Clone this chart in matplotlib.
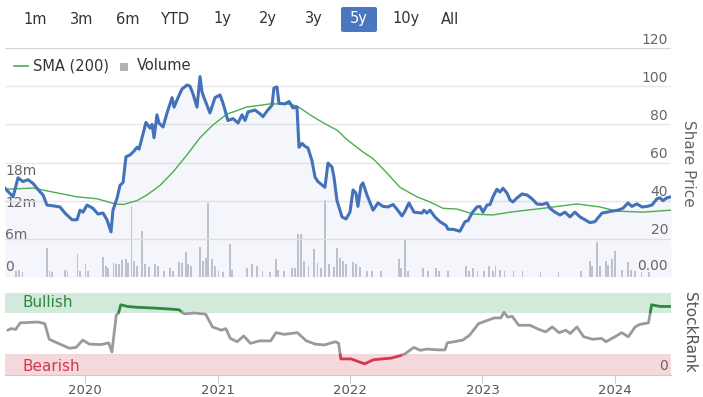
import numpy as np
import matplotlib
matplotlib.use('Agg')
import matplotlib.pyplot as plt
from matplotlib.lines import Line2D
from matplotlib.patches import FancyBboxPatch, Rectangle
from matplotlib.transforms import blended_transform_factory

# ---- data (decimal years) ----
price_dates = [2019.396, 2019.457, 2019.494, 2019.532, 2019.570, 2019.608, 2019.660, 2019.683, 2019.713, 2019.758,
               2019.811, 2019.849, 2019.902, 2019.940, 2019.962, 2019.985, 2020.015, 2020.060, 2020.098, 2020.136,
               2020.166, 2020.196, 2020.211, 2020.242, 2020.264, 2020.287, 2020.309, 2020.340, 2020.370, 2020.392,
               2020.408, 2020.430, 2020.460, 2020.491, 2020.506, 2020.521, 2020.543, 2020.558, 2020.589, 2020.619,
               2020.657, 2020.672, 2020.702, 2020.732, 2020.770, 2020.792, 2020.815, 2020.845, 2020.868, 2020.883,
               2020.898, 2020.943, 2020.981, 2021.019, 2021.042, 2021.079, 2021.117, 2021.155, 2021.185, 2021.208,
               2021.230, 2021.283, 2021.321, 2021.343, 2021.374, 2021.411, 2021.426, 2021.449, 2021.464, 2021.509,
               2021.540, 2021.570, 2021.600, 2021.615, 2021.638, 2021.660, 2021.683, 2021.713, 2021.736, 2021.758,
               2021.811, 2021.834, 2021.864, 2021.879, 2021.902, 2021.940, 2021.970, 2022.000, 2022.023, 2022.045,
               2022.060, 2022.083, 2022.098, 2022.128, 2022.151, 2022.174, 2022.211, 2022.249, 2022.287, 2022.325,
               2022.355, 2022.392, 2022.415, 2022.445, 2022.483, 2022.543, 2022.558, 2022.581, 2022.604, 2022.642,
               2022.679, 2022.725, 2022.740, 2022.777, 2022.830, 2022.868, 2022.891, 2022.921, 2022.958, 2022.981,
               2023.004, 2023.034, 2023.057, 2023.079, 2023.109, 2023.132, 2023.155, 2023.185, 2023.208, 2023.230,
               2023.260, 2023.298, 2023.336, 2023.374, 2023.411, 2023.449, 2023.487, 2023.509, 2023.547, 2023.585,
               2023.623, 2023.660, 2023.698, 2023.736, 2023.774, 2023.811, 2023.849, 2023.872, 2023.902, 2023.940,
               2023.985, 2024.023, 2024.060, 2024.098, 2024.128, 2024.166, 2024.204, 2024.242, 2024.279, 2024.317,
               2024.340, 2024.362, 2024.392, 2024.423]
price_values = [46.5, 42, 52, 50, 51, 49, 44.7, 43, 37.7, 37.3,
                36.7, 33.5, 30, 30, 35, 34, 37.7, 36, 33, 33.5,
                30, 23.6, 35, 41.4, 48, 49.5, 63, 64, 66, 68,
                67, 73, 81, 78, 80, 73, 85, 80.7, 78.6, 86,
                94, 89, 94, 98.5, 100.6, 100, 96, 89, 105, 97,
                94, 86, 94, 95.4, 91, 82, 83, 80.7, 85, 82,
                86.5, 87.5, 85.5, 84, 87, 90, 99, 99.6, 91, 90.7,
                92, 88.6, 89, 68, 70, 68.5, 67.6, 61, 52.4, 50,
                47, 59.7, 57.6, 52.4, 40, 31.5, 30.4, 34, 45.6, 44,
                37, 48, 49.3, 43, 39, 35, 38.8, 37, 36.7, 38,
                35.5, 32, 34.5, 38.8, 34, 33.5, 35, 33.5, 35, 31.4,
                29, 27, 25, 25, 24, 29, 29.5, 33.5, 36.7, 37,
                34, 37.7, 38, 42, 46, 44.5, 46.5, 44, 40.4, 39.3,
                41.4, 43.5, 43, 41, 38.3, 38, 38.8, 36, 34, 32.5,
                34, 31.5, 34, 31.5, 30, 28.5, 29, 31, 33.5, 34,
                34.6, 35, 36, 38.8, 37, 38.3, 36.7, 37, 37.7, 41,
                41.5, 40, 41.5, 42]

sma_dates = [2019.396, 2019.608, 2019.758, 2019.940, 2020.091, 2020.226, 2020.287, 2020.392, 2020.468, 2020.566,
             2020.664, 2020.770, 2020.868, 2020.966, 2021.072, 2021.140, 2021.215, 2021.396, 2021.532, 2021.600,
             2021.721, 2021.826, 2021.902, 2021.977, 2022.098, 2022.174, 2022.279, 2022.377, 2022.506, 2022.604,
             2022.702, 2022.808, 2022.928, 2023.079, 2023.208, 2023.457, 2023.713, 2023.887, 2024.015, 2024.211,
             2024.423]
sma_values = [46, 46.6, 44.5, 42, 41, 38.3, 38, 40, 43, 48,
              55, 64, 73, 79.7, 85.4, 87, 89, 90.7, 90.7, 89.6,
              84, 79.7, 77, 72, 65.5, 62, 54.5, 47, 42, 39.3,
              36, 35.6, 33, 32.5, 34, 36, 38.3, 36.7, 34.5, 34,
              35]

vol_dates = [2019.477, 2019.501, 2019.528, 2019.716, 2019.732, 2019.753, 2019.851, 2019.868, 2019.943, 2019.964,
             2020.004, 2020.021, 2020.134, 2020.157, 2020.174, 2020.215, 2020.236, 2020.259, 2020.276, 2020.310,
             2020.327, 2020.351, 2020.372, 2020.395, 2020.429, 2020.453, 2020.480, 2020.531, 2020.548, 2020.599,
             2020.644, 2020.667, 2020.712, 2020.735, 2020.759, 2020.780, 2020.803, 2020.871, 2020.888, 2020.916,
             2020.929, 2020.956, 2020.983, 2021.007, 2021.041, 2021.092, 2021.109, 2021.221, 2021.262, 2021.296,
             2021.340, 2021.398, 2021.439, 2021.459, 2021.500, 2021.561, 2021.585, 2021.609, 2021.629, 2021.653,
             2021.687, 2021.731, 2021.755, 2021.779, 2021.813, 2021.840, 2021.881, 2021.901, 2021.925, 2021.949,
             2021.969, 2022.020, 2022.044, 2022.078, 2022.129, 2022.163, 2022.231, 2022.367, 2022.384, 2022.418,
             2022.435, 2022.554, 2022.588, 2022.649, 2022.673, 2022.741, 2022.877, 2022.901, 2022.928, 2022.962,
             2023.013, 2023.047, 2023.081, 2023.098, 2023.132, 2023.166, 2023.234, 2023.302, 2023.438, 2023.574,
             2023.744, 2023.812, 2023.829, 2023.863, 2023.890, 2023.931, 2023.948, 2023.975, 2023.999, 2024.050,
             2024.101, 2024.118, 2024.152, 2024.200, 2024.260]
vol_values = [1.1, 1.3, 1.0, 5.4, 1.1, 0.9, 1.4, 1.2, 4.4, 1.1,
              2.5, 1.1, 3.7, 2.1, 1.6, 2.7, 2.4, 2.5, 3.1, 3.4,
              2.7, 13.3, 3.0, 2.1, 8.6, 2.4, 1.9, 2.4, 2.1, 1.1,
              1.6, 1.2, 2.8, 2.6, 4.6, 2.4, 2.1, 5.6, 3.0, 3.6,
              13.9, 3.3, 2.1, 1.1, 0.9, 6.1, 1.4, 1.6, 2.4, 2.1,
              1.1, 0.9, 3.3, 1.4, 1.1, 1.6, 1.7, 8.0, 8.0, 3.0,
              2.1, 5.2, 2.7, 1.7, 14.5, 2.4, 1.9, 5.5, 3.6, 3.0,
              2.4, 2.8, 2.4, 1.9, 1.2, 1.1, 1.1, 3.3, 1.6, 7.1,
              1.2, 1.7, 1.1, 1.6, 1.1, 1.1, 2.1, 1.1, 1.7, 1.1,
              1.2, 2.1, 1.1, 2.1, 1.4, 1.1, 1.1, 1.1, 0.9, 0.9,
              1.1, 3.0, 2.1, 6.6, 2.1, 3.0, 2.2, 3.3, 4.9, 1.4,
              2.8, 1.4, 1.1, 1.0, 0.9]

rank_dates = [2019.416, 2019.443, 2019.477, 2019.511, 2019.578, 2019.646, 2019.696, 2019.730, 2019.797, 2019.882,
              2019.932, 2019.983, 2020.034, 2020.118, 2020.179, 2020.203, 2020.236, 2020.253, 2020.270, 2020.321,
              2020.388, 2020.523, 2020.624, 2020.709, 2020.743, 2020.759, 2020.827, 2020.911, 2020.962, 2021.030,
              2021.063, 2021.097, 2021.148, 2021.198, 2021.249, 2021.316, 2021.401, 2021.441, 2021.502, 2021.603,
              2021.671, 2021.738, 2021.806, 2021.890, 2021.914, 2021.931, 2022.008, 2022.076, 2022.110, 2022.177,
              2022.312, 2022.380, 2022.414, 2022.481, 2022.532, 2022.582, 2022.667, 2022.717, 2022.734, 2022.785,
              2022.852, 2022.903, 2022.970, 2023.038, 2023.089, 2023.139, 2023.163, 2023.190, 2023.224, 2023.274,
              2023.359, 2023.426, 2023.477, 2023.527, 2023.578, 2023.629, 2023.662, 2023.713, 2023.764, 2023.831,
              2023.899, 2023.932, 2024.000, 2024.051, 2024.101, 2024.152, 2024.186, 2024.253, 2024.277, 2024.338,
              2024.423]
rank_values = [54, 56, 55, 63, 63.5, 64, 62, 43, 38, 32,
               33, 42, 37, 36.5, 38.5, 27.5, 72.5, 75, 85, 83,
               82, 81, 80, 79, 74.5, 74, 75, 73.5, 58, 54,
               56, 44, 40, 47, 38, 41, 41, 51, 49, 51,
               41, 37, 36, 40, 38, 19, 19, 15, 13, 18,
               20, 23, 25, 33, 29.5, 31, 30, 30, 38.5, 40,
               42, 48, 62, 66, 69, 69, 76, 70, 71, 60,
               60, 55, 52, 58, 51, 54, 50, 58, 46, 43,
               44, 40, 46, 51, 46, 58, 61, 63, 85, 83,
               83]

price_ticks = [20, 40, 60, 80, 100, 120]
vol_ticks = [0, 6, 12, 18]
year_ticks = [2020, 2021, 2022, 2023, 2024]
buttons = ['1m', '3m', '6m', 'YTD', '1y', '2y', '3y', '5y', '10y', 'All']
active_button = '5y'

X0, X1 = 2019.396, 2024.423
W, H = 703, 397
GRID = '#e6e6e6'
LABEL = '#666666'


def split_by_band(x, y, lo, hi):
    # insert threshold crossings so colour changes happen exactly at band edges
    xs, ys = [x[0]], [y[0]]
    for i in range(len(x) - 1):
        xa, xb, ya, yb = x[i], x[i + 1], y[i], y[i + 1]
        cross = []
        for t in (lo, hi):
            if (ya - t) * (yb - t) < 0:
                cross.append(xa + (t - ya) / (yb - ya) * (xb - xa))
        cross.sort()
        for cx in cross:
            xs.append(cx)
            ys.append(np.interp(cx, [xa, xb], [ya, yb]))
        xs.append(xb)
        ys.append(yb)
    pieces = []
    for i in range(len(xs) - 1):
        mid = (ys[i] + ys[i + 1]) / 2
        col = '#2b8a3e' if mid > hi else ('#d5374f' if mid < lo else '#9a9a9a')
        if pieces and pieces[-1][2] == col:
            pieces[-1][0].append(xs[i + 1])
            pieces[-1][1].append(ys[i + 1])
        else:
            pieces.append(([xs[i], xs[i + 1]], [ys[i], ys[i + 1]], col))
    return pieces


fig = plt.figure(figsize=(W / 100, H / 100), dpi=100)

# ---- range buttons ----
btn_x = [35, 82, 128, 175, 222, 268, 314, 359, 406, 450]
for label, bx in zip(buttons, btn_x):
    color = '#333333'
    if label == active_button:
        fig.add_artist(FancyBboxPatch((341 / W, 1 - 32 / H), 36 / W, 25 / H,
                                      boxstyle='round,pad=0,rounding_size=0.004',
                                      transform=fig.transFigure, facecolor='#4a77bd', edgecolor='none'))
        color = 'white'
    fig.text(bx / W, 1 - 19 / H, label, ha='center', va='center', fontsize=10.5, color=color)

# ---- price / volume panel ----
ax_vol = fig.add_axes([5 / W, 1 - 277 / H, 666 / W, 229 / H])
ax = ax_vol.twinx()
ax_vol.set_xlim(X0, X1)
ax_vol.set_ylim(0, 42.94)
ax.set_ylim(0, 120)
ax.set_xlim(X0, X1)

for t in price_ticks:
    ax.axhline(t, color=GRID, lw=1, zorder=0)
ax.axhline(120, color='#d8d8d8', lw=1.6, zorder=0)
ax.axhline(0, color=GRID, lw=1, zorder=0)

ax_vol.bar(vol_dates, vol_values, width=0.014, color='#c6c6cc', zorder=1)
ax.fill_between(price_dates, price_values, 0, color=(0.27, 0.4, 0.75, 0.055), lw=0, zorder=1)
ax.plot(sma_dates, sma_values, color='#4cae4c', lw=1, zorder=2)
ax.plot(price_dates, price_values, color='#4472b9', lw=2.2, zorder=3, solid_joinstyle='round')

for a in (ax, ax_vol):
    for s in a.spines.values():
        s.set_visible(False)
    a.set_xticks([])
    a.set_yticks([])

trans_p = blended_transform_factory(ax.transAxes, ax.transData)
for t in price_ticks:
    ax.annotate(str(t), (0.9955, t), xycoords=trans_p, xytext=(0, 1), textcoords='offset points',
                ha='right', va='bottom', fontsize=10, color=LABEL)
ax.annotate('0.00', (0.9955, 0), xycoords=trans_p, xytext=(0, 3), textcoords='offset points',
            ha='right', va='bottom', fontsize=10, color=LABEL)

trans_v = blended_transform_factory(ax_vol.transAxes, ax_vol.transData)
for t in vol_ticks:
    ax_vol.annotate('0' if t == 0 else f'{t}m', (0.0, t), xycoords=trans_v, xytext=(0, 2),
                    textcoords='offset points', ha='left', va='bottom', fontsize=10, color=LABEL, zorder=5)

# legend
fig.add_artist(Line2D([14 / W, 28 / W], [1 - 66 / H, 1 - 66 / H], color='#4cae4c', lw=1.2,
                      transform=fig.transFigure))
fig.text(33 / W, 1 - 66 / H, 'SMA (200)', ha='left', va='center', fontsize=10.5, color='#333333')
fig.add_artist(Rectangle((120 / W, 1 - 71 / H), 8 / W, 8 / H, transform=fig.transFigure,
                         facecolor='#b0b0b8', edgecolor='none'))
fig.text(137 / W, 1 - 66 / H, 'Volume', ha='left', va='center', fontsize=10.5, color='#333333')

fig.text(689 / W, 1 - 163 / H, 'Share Price', rotation=-90, ha='center', va='center',
         fontsize=11, color=LABEL)

# ---- StockRank panel ----
ax2 = fig.add_axes([5 / W, 1 - 374.5 / H, 666 / W, 82 / H])
ax2.set_xlim(X0, X1)
ax2.set_ylim(0, 100)
ax2.axhspan(75, 100, color='#d3e9dc', lw=0, zorder=0)
ax2.axhspan(0, 25, color='#f5d8db', lw=0, zorder=0)
for xs, ys, col in split_by_band(rank_dates, rank_values, 24, 76):
    ax2.plot(xs, ys, color=col, lw=2, solid_capstyle='round', zorder=2)

ax2.text(18 / 666, 87.5, 'Bullish', transform=blended_transform_factory(ax2.transAxes, ax2.transData),
         ha='left', va='center', fontsize=11, color='#2b8a3e')
ax2.text(18 / 666, 10, 'Bearish', transform=blended_transform_factory(ax2.transAxes, ax2.transData),
         ha='left', va='center', fontsize=11, color='#d5374f')
ax2.text(0.9955, 10, '0', transform=blended_transform_factory(ax2.transAxes, ax2.transData),
         ha='right', va='center', fontsize=10, color=LABEL)

for side in ('left', 'right'):
    ax2.spines[side].set_visible(False)
ax2.spines['top'].set_color('#e3e3e3')
ax2.spines['bottom'].set_color('#cccccc')
ax2.set_yticks([])
ax2.set_xticks(year_ticks)
ax2.set_xticklabels([str(y) for y in year_ticks])
ax2.tick_params(axis='x', length=6, color='#cccccc', labelcolor='#555555', labelsize=9.5, pad=0.5)

fig.text(689 / W, 1 - 332 / H, 'StockRank', rotation=-90, ha='center', va='center',
         fontsize=11, color='#555555')

fig.savefig('out.png', dpi=100)
